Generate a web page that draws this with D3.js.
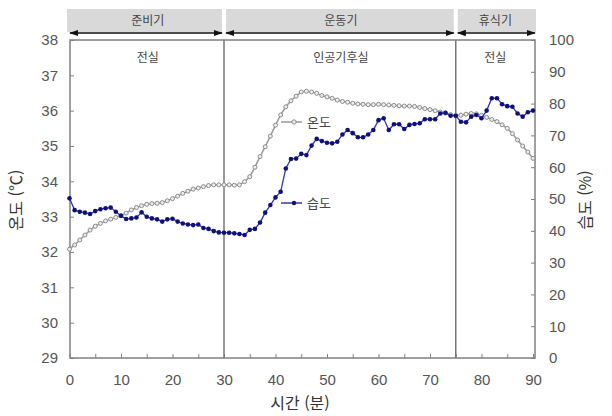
<!DOCTYPE html>
<html lang="ko">
<head>
<meta charset="UTF-8">
<title>온도 / 습도</title>
<script src="https://d3js.org/d3.v7.min.js"></script>
<style>
    body { margin: 0; background: #fff; }
    svg text { font-family: "Liberation Sans", Arial, "Noto Sans CJK KR", sans-serif; }
    .ko { font-family: "Noto Sans CJK KR", "Noto Sans", sans-serif; }
    .tick text { fill: #555; font-size: 15px; }
    .tick line { stroke: #808080; }
</style>
</head>
<body>
<svg id="chart" width="612" height="416"></svg>
<script>
// minutes 0..90, one reading per minute
const minutes = d3.range(0, 91);

// 온도 (°C), left axis
const temperature = [
    32.08, 32.20, 32.34, 32.48, 32.62, 32.73, 32.81, 32.88, 32.93, 32.98,
    33.03, 33.10, 33.19, 33.26, 33.31, 33.35, 33.37, 33.38, 33.40, 33.45,
    33.51, 33.58, 33.66, 33.72, 33.78, 33.81, 33.85, 33.88, 33.90, 33.90,
    33.90, 33.90, 33.89, 33.90, 33.99, 34.13, 34.40, 34.70, 34.98, 35.28,
    35.59, 35.88, 36.11, 36.28, 36.41, 36.53, 36.55, 36.53, 36.49, 36.43,
    36.39, 36.35, 36.30, 36.26, 36.24, 36.21, 36.19, 36.18, 36.17, 36.17,
    36.18, 36.17, 36.16, 36.15, 36.14, 36.13, 36.13, 36.12, 36.09, 36.06,
    36.03, 36.00, 35.96, 35.93, 35.89, 35.86, 35.87, 35.90, 35.92, 35.91,
    35.87, 35.81, 35.75, 35.69, 35.60, 35.50, 35.35, 35.17, 35.00, 34.83,
    34.65
];

// 습도 (%), right axis
const humidity = [
    50.2, 46.5, 46.0, 45.7, 45.3, 46.2, 46.8, 47.1, 47.3, 46.0,
    44.7, 43.7, 43.9, 44.2, 45.8, 44.4, 43.9, 43.6, 42.9, 43.6,
    43.8, 42.9, 42.3, 42.0, 41.8, 42.0, 40.9, 40.6, 39.9, 39.5,
    39.4, 39.4, 39.2, 39.0, 38.7, 40.3, 40.6, 42.6, 45.7, 48.1,
    50.5, 52.3, 59.6, 62.6, 62.7, 64.2, 63.8, 66.8, 68.9, 68.2,
    67.7, 67.5, 68.0, 70.3, 71.7, 70.7, 69.4, 69.4, 70.3, 71.7,
    74.8, 75.4, 71.7, 73.5, 73.5, 72.0, 73.3, 73.6, 73.8, 75.1,
    75.1, 75.1, 76.9, 77.1, 76.2, 76.2, 74.3, 74.1, 75.9, 76.4,
    75.4, 77.8, 81.7, 81.7, 79.8, 79.2, 79.0, 76.9, 75.9, 77.3,
    77.8
];

// phases along the top
const phaseNames = ["준비기", "운동기", "휴식기"];
const roomNames = ["전실", "인공기후실", "전실"];
const phaseBounds = [0, 30, 75, 90];

const tempTicks = [29, 30, 31, 32, 33, 34, 35, 36, 37, 38];
const humTicks = [0, 10, 20, 30, 40, 50, 60, 70, 80, 90, 100];
const timeTicks = [0, 10, 20, 30, 40, 50, 60, 70, 80, 90];

const svg = d3.select("#chart");
const plotL = 70, plotR = 535, plotT = 40, plotB = 358;

const x = d3.scaleLinear().domain([0, 90]).range([plotL - 0.5, plotR - 2]);
const yT = d3.scaleLinear().domain([29, 38]).range([plotB, plotT]);
const yH = d3.scaleLinear().domain([0, 100]).range([plotB, plotT]);

svg.append("rect").attr("width", 612).attr("height", 416).attr("fill", "#fff");

// header band + arrows
const phases = phaseNames.map((name, i) => ({name, room: roomNames[i], a: phaseBounds[i], b: phaseBounds[i + 1]}));
svg.append("defs").append("marker")
    .attr("id", "head").attr("viewBox", "0 0 10 10").attr("refX", 9).attr("refY", 5)
    .attr("markerWidth", 6).attr("markerHeight", 6).attr("orient", "auto-start-reverse")
    .append("path").attr("d", "M0,1.5 L10,5 L0,8.5 Z").attr("fill", "#111");

const bandL = d => d.a === 0 ? plotL - 3 : x(d.a) + 2;
const bandR = d => d.b === 90 ? plotR + 1 : x(d.b) - 2;
svg.selectAll(".band").data(phases).enter().append("rect")
    .attr("x", bandL).attr("width", d => bandR(d) - bandL(d))
    .attr("y", 9).attr("height", 23).attr("fill", "#d9d9d9");

svg.selectAll(".arrow").data(phases).enter().append("line")
    .attr("x1", d => d.a === 0 ? plotL : x(d.a) + 2)
    .attr("x2", d => d.b === 90 ? plotR : x(d.b) - 2)
    .attr("y1", 33).attr("y2", 33)
    .attr("stroke", "#111").attr("stroke-width", 1.5)
    .attr("marker-start", "url(#head)").attr("marker-end", "url(#head)");

svg.selectAll(".phase").data(phases).enter().append("text")
    .attr("class", "ko").attr("x", d => (x(d.a) + x(d.b)) / 2 + 1).attr("y", 25)
    .attr("text-anchor", "middle").attr("font-size", 12).attr("fill", "#444")
    .text(d => d.name);

svg.selectAll(".room").data(phases).enter().append("text")
    .attr("class", "ko").attr("x", d => (x(d.a) + x(d.b)) / 2 + 1).attr("y", 62)
    .attr("text-anchor", "middle").attr("font-size", 12).attr("fill", "#444")
    .text(d => d.room);

// axes (ticks point inward, frame drawn separately)
const gL = svg.append("g").attr("transform", `translate(${plotL},0)`)
    .call(d3.axisLeft(yT).tickValues(tempTicks).tickSize(-4).tickPadding(12));
const gR = svg.append("g").attr("transform", `translate(${plotR},0)`)
    .call(d3.axisRight(yH).tickValues(humTicks).tickSize(-4).tickPadding(14));
const gB = svg.append("g").attr("transform", `translate(0,${plotB})`)
    .call(d3.axisBottom(x).tickValues(d3.range(0, 91, 5)).tickSize(-4).tickPadding(16)
        .tickFormat(d => timeTicks.includes(d) ? d : ""));
[gL, gR, gB].forEach(g => g.select(".domain").remove());
gL.selectAll(".tick text").attr("text-anchor", "end");
gR.selectAll(".tick text").attr("text-anchor", "start");

// phase dividers and frame
svg.selectAll(".divider").data(phaseBounds.slice(1, 3)).enter().append("line")
    .attr("x1", d => x(d)).attr("x2", d => x(d)).attr("y1", plotT).attr("y2", plotB)
    .attr("stroke", "#777").attr("stroke-width", 1.5);
svg.append("rect").attr("x", plotL).attr("y", plotT)
    .attr("width", plotR - plotL).attr("height", plotB - plotT)
    .attr("fill", "none").attr("stroke", "#808080").attr("stroke-width", 1.5);

// series
const tempData = minutes.map((m, i) => ({m, v: temperature[i]}));
const humData = minutes.map((m, i) => ({m, v: humidity[i]}));

svg.append("path").datum(tempData)
    .attr("d", d3.line().x(d => x(d.m)).y(d => yT(d.v)))
    .attr("fill", "none").attr("stroke", "#999").attr("stroke-width", 1.5);
svg.selectAll(".tdot").data(tempData).enter().append("circle")
    .attr("cx", d => x(d.m)).attr("cy", d => yT(d.v)).attr("r", 2)
    .attr("fill", "#eee").attr("stroke", "#8c8c8c").attr("stroke-width", 1);

svg.append("path").datum(humData)
    .attr("d", d3.line().x(d => x(d.m)).y(d => yH(d.v)))
    .attr("fill", "none").attr("stroke", "#3434b4").attr("stroke-width", 1.3);
svg.selectAll(".hdot").data(humData).enter().append("circle")
    .attr("cx", d => x(d.m)).attr("cy", d => yH(d.v)).attr("r", 2.3)
    .attr("fill", "#10107a");

// in-plot legend
const legend = [
    {name: "온도", y: 122, stroke: "#999", dot: "#eee", dotStroke: "#8c8c8c"},
    {name: "습도", y: 203, stroke: "#3434b4", dot: "#10107a", dotStroke: "none"}
];
legend.forEach(l => {
    svg.append("line").attr("x1", 281).attr("x2", 302).attr("y1", l.y).attr("y2", l.y)
        .attr("stroke", l.stroke).attr("stroke-width", 1.5);
    svg.append("circle").attr("cx", 294).attr("cy", l.y).attr("r", 2.2)
        .attr("fill", l.dot).attr("stroke", l.dotStroke);
    svg.append("text").attr("class", "ko").attr("x", 307).attr("y", l.y + 5)
        .attr("font-size", 13).attr("fill", "#444").text(l.name);
});

// axis titles
svg.append("text").attr("class", "ko").attr("x", 300).attr("y", 409)
    .attr("text-anchor", "middle").attr("font-size", 16).attr("fill", "#333").text("시간 (분)");
svg.append("text").attr("class", "ko")
    .attr("transform", "translate(22,200) rotate(-90)")
    .attr("text-anchor", "middle").attr("font-size", 16).attr("fill", "#333").text("온도 (℃)");
svg.append("text").attr("class", "ko")
    .attr("transform", "translate(591,200) rotate(-90)")
    .attr("text-anchor", "middle").attr("font-size", 16).attr("fill", "#333").text("습도 (%)");
</script>
</body>
</html>
